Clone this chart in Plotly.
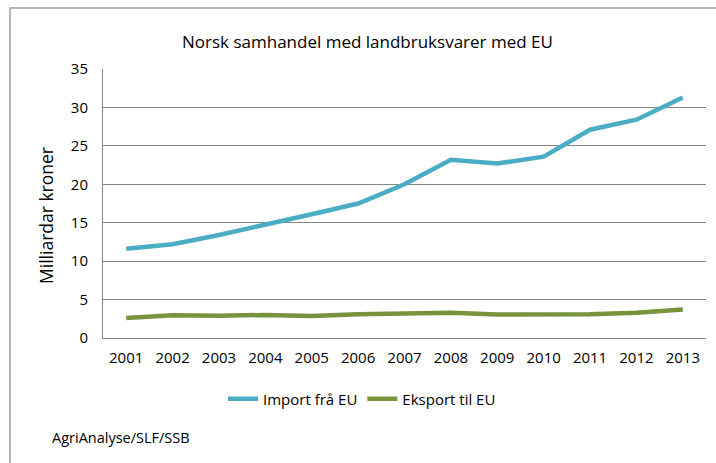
import plotly.graph_objects as go

years = ["2001", "2002", "2003", "2004", "2005", "2006", "2007",
         "2008", "2009", "2010", "2011", "2012", "2013"]
import_eu = [11.6, 12.2, 13.4, 14.7, 16.1, 17.5, 20.0, 23.2, 22.7, 23.6, 27.1, 28.4, 31.3]
eksport_eu = [2.6, 2.95, 2.9, 3.0, 2.85, 3.1, 3.2, 3.3, 3.05, 3.1, 3.1, 3.3, 3.7]
y_ticks = [0, 5, 10, 15, 20, 25, 30, 35]

W, H = 716, 463
L, R, T, B = 103, 10, 69, 125
pw, ph = W - L - R, H - T - B

def px(x):
    return (x - L) / pw

def py(y):
    return (H - B - y) / ph

FONT = "Open Sans"

fig = go.Figure()
fig.add_trace(go.Scatter(x=years, y=import_eu, mode="lines", name="Import frå EU",
                         line=dict(color="#4BACC6", width=4.5)))
fig.add_trace(go.Scatter(x=years, y=eksport_eu, mode="lines", name="Eksport til EU",
                         line=dict(color="#77933C", width=4.5)))

fig.update_layout(
    width=W, height=H,
    margin=dict(l=L, r=R, t=T, b=B, autoexpand=False),
    paper_bgcolor="white", plot_bgcolor="white",
    font=dict(family=FONT, size=15, color="black"),
    showlegend=True,
    legend=dict(orientation="h", x=px(362), xanchor="center", y=py(399), yanchor="middle",
                font=dict(size=15), itemwidth=30, tracegroupgap=0),
    xaxis=dict(type="category", range=[-0.5, 12.5], showgrid=False, automargin=False,
               showline=True, linecolor="#868686", linewidth=1,
               ticks="", tickfont=dict(size=15), ticklabelstandoff=6),
    yaxis=dict(range=[0, 35], tickvals=y_ticks, showgrid=True, gridcolor="#868686",
               gridwidth=1.2, showline=True, linecolor="#868686", linewidth=1, automargin=False,
               ticks="", tickfont=dict(size=15), ticklabelstandoff=11, zeroline=False),
    shapes=[dict(type="rect", xref="paper", yref="paper",
                 x0=px(10), x1=px(740), y0=py(490), y1=py(8),
                 line=dict(color="#A0A0A0", width=1.5), fillcolor="rgba(0,0,0,0)",
                 layer="below")],
    annotations=[
        dict(text="Norsk samhandel med landbruksvarer med EU", xref="paper", yref="paper",
             x=px(367), y=py(41), xanchor="center", yanchor="middle", showarrow=False,
             font=dict(size=17)),
        dict(text="Milliardar kroner", xref="paper", yref="paper",
             x=px(46), y=py(216), xanchor="center", yanchor="middle", showarrow=False,
             textangle=-90, font=dict(size=17.5)),
        dict(text="AgriAnalyse/SLF/SSB", xref="paper", yref="paper",
             x=px(50), y=py(437), xanchor="left", yanchor="middle", showarrow=False,
             font=dict(size=14.5)),
    ],
)

fig.write_html("out.html", config={"displayModeBar": False},
               post_script="document.body.style.margin='0px';document.body.style.overflow='hidden';")
